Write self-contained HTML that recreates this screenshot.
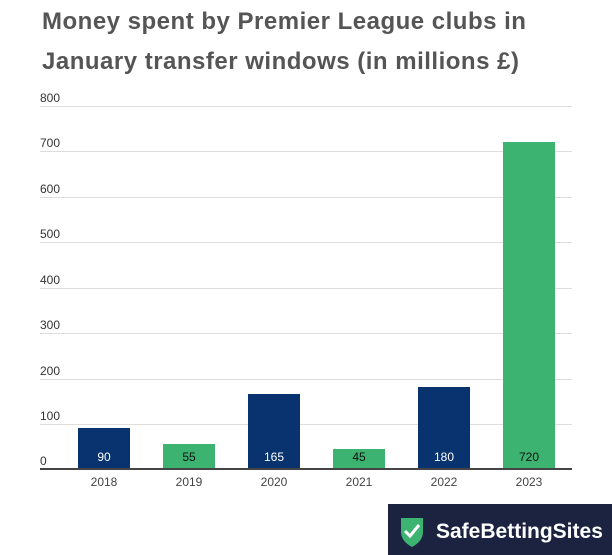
<!DOCTYPE html>
<html><head><style>
body{margin:0;width:612px;height:555px;background:#fff;font-family:"Liberation Sans",sans-serif;position:relative;overflow:hidden}
</style></head><body>
<div style="position:absolute;left:42px;top:2px;font-size:24px;font-weight:bold;color:#555;line-height:40px;letter-spacing:0.5px;white-space:nowrap">Money spent by Premier League clubs in<br>January transfer windows (in millions £)</div>
<svg width="612" height="555" style="position:absolute;left:0;top:0">
<g font-family="Liberation Sans, sans-serif" font-size="12" fill="#333">
<g stroke="#ddd" stroke-width="1">
<line x1="40" x2="572" y1="106.5" y2="106.5"/><line x1="40" x2="572" y1="151.5" y2="151.5"/>
<line x1="40" x2="572" y1="197.5" y2="197.5"/><line x1="40" x2="572" y1="242.5" y2="242.5"/>
<line x1="40" x2="572" y1="288.5" y2="288.5"/><line x1="40" x2="572" y1="333.5" y2="333.5"/>
<line x1="40" x2="572" y1="379.5" y2="379.5"/><line x1="40" x2="572" y1="424.5" y2="424.5"/>
</g>
<text x="40" y="102">800</text><text x="40" y="147">700</text><text x="40" y="193">600</text>
<text x="40" y="238">500</text><text x="40" y="284">400</text><text x="40" y="329">300</text>
<text x="40" y="375">200</text><text x="40" y="420">100</text><text x="40" y="465">0</text>
<rect x="78" y="428" width="52" height="41" fill="#08336e"/>
<rect x="163" y="444" width="52" height="25" fill="#3cb371"/>
<rect x="248" y="394" width="52" height="75" fill="#08336e"/>
<rect x="333" y="449" width="52" height="20" fill="#3cb371"/>
<rect x="418" y="387" width="52" height="82" fill="#08336e"/>
<rect x="503" y="142" width="52" height="327" fill="#3cb371"/>
<line x1="40" x2="572" y1="469" y2="469" stroke="#444" stroke-width="2"/>
<g text-anchor="middle" font-size="12">
<text x="104" y="461" fill="#fff">90</text><text x="189" y="461" fill="#111">55</text>
<text x="274" y="461" fill="#fff">165</text><text x="359" y="461" fill="#111">45</text>
<text x="444" y="461" fill="#fff">180</text><text x="529" y="461" fill="#111">720</text>
<g fill="#444"><text x="104" y="486">2018</text><text x="189" y="486">2019</text><text x="274" y="486">2020</text>
<text x="359" y="486">2021</text><text x="444" y="486">2022</text><text x="529" y="486">2023</text></g>
</g>
</g>
<rect x="388" y="504" width="224" height="51" fill="#1b2340"/>
<path d="M401 518 L423 518 L423 532 Q423 541 412 547 Q401 541 401 532 Z" fill="#3cb371"/>
<path d="M405 531 L410 536 L419 525" stroke="#fff" stroke-width="3" fill="none"/>
<text x="436" y="538" font-family="Liberation Sans, sans-serif" font-weight="bold" font-size="21" fill="#fff">SafeBettingSites</text>
</svg>
</body></html>
